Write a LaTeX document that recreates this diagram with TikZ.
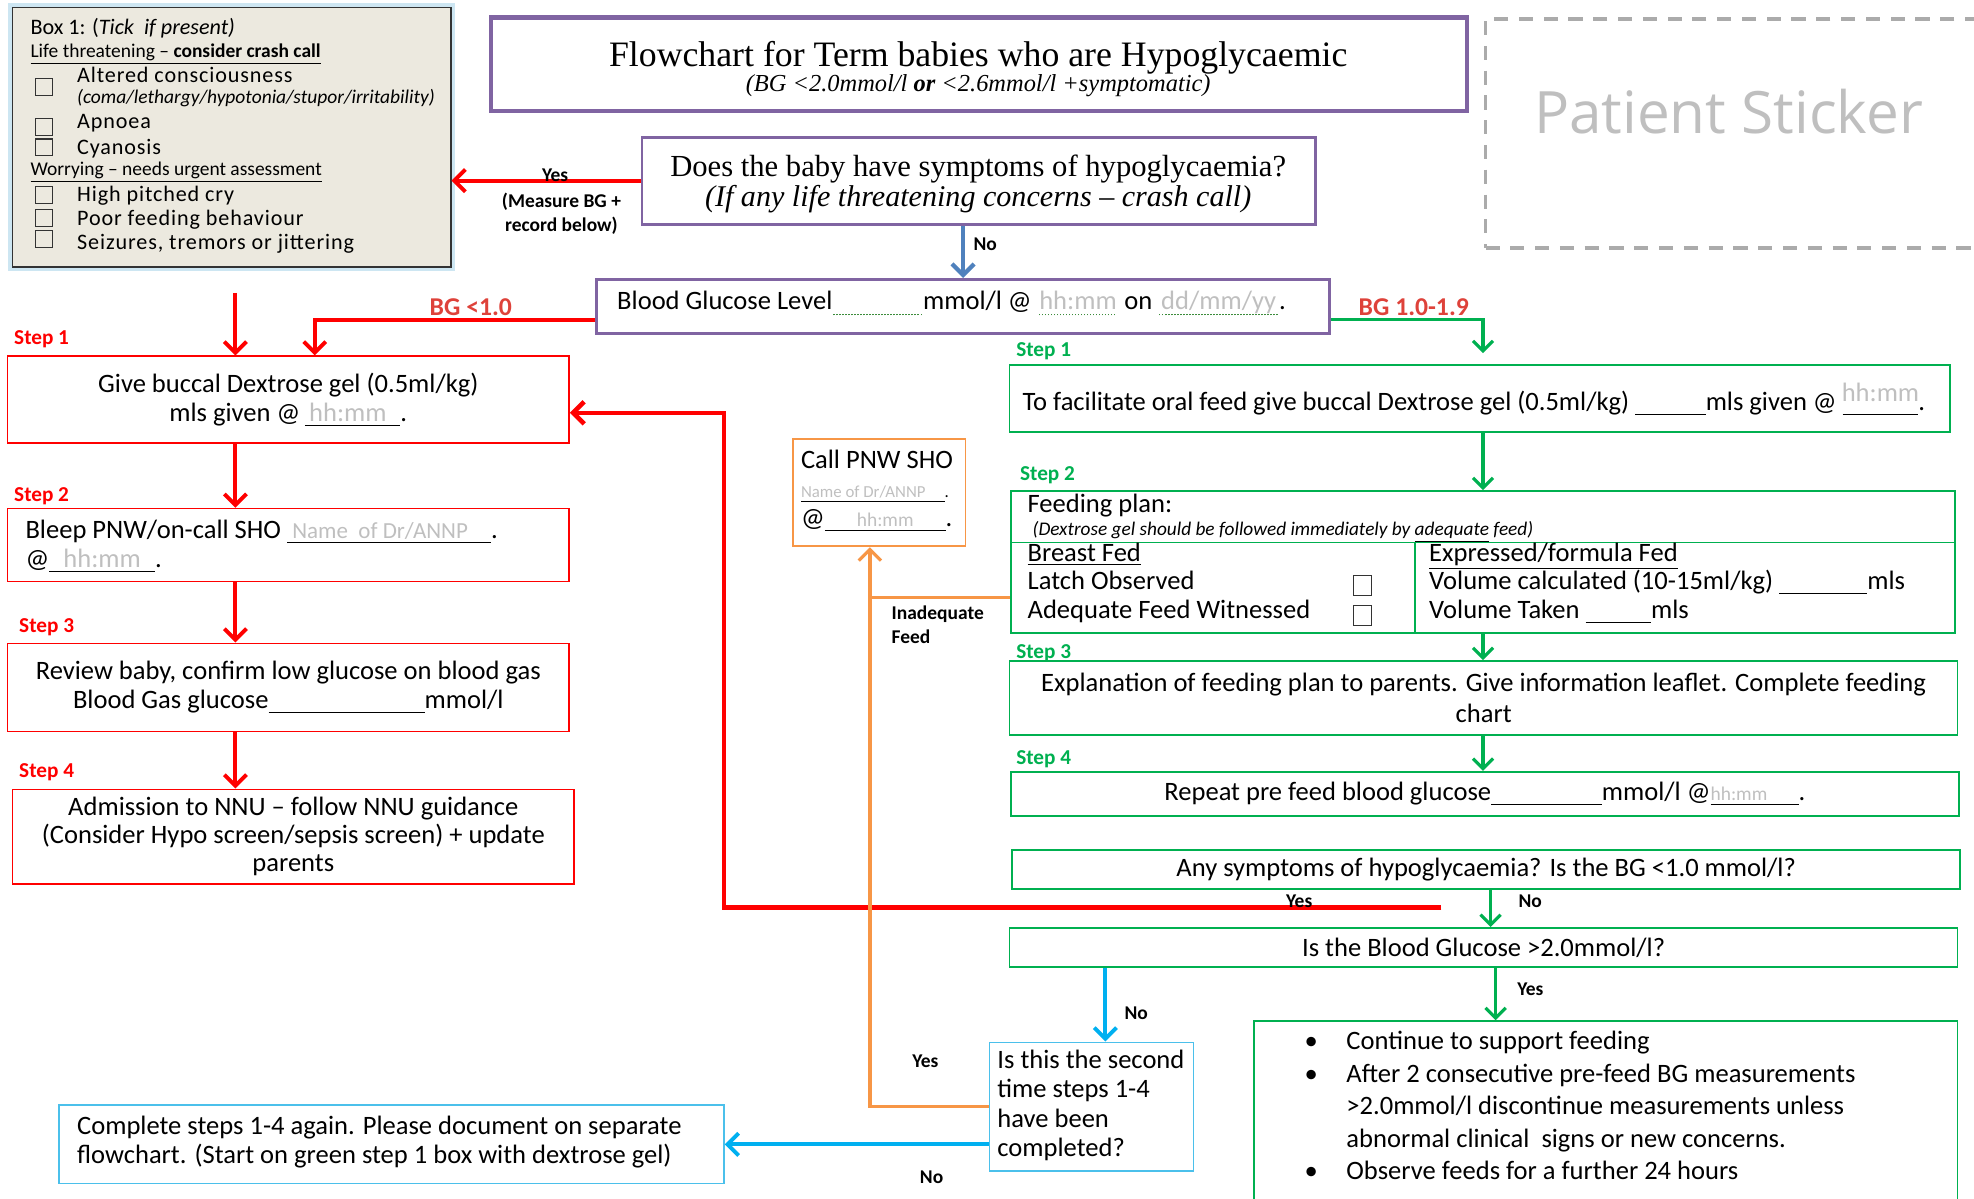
\documentclass[tikz,border=0pt]{standalone}
\usepackage{fontspec}
\setmainfont{Carlito}
\newfontfamily\titlefont{Liberation Serif}
\newfontfamily\stickerfont{Open Sans}
\usetikzlibrary{positioning, fit, arrows.meta}

\definecolor{hred}{RGB}{255,0,0}
\definecolor{hlabel}{RGB}{222,66,58}
\definecolor{hgreen}{RGB}{0,176,80}
\definecolor{hpurple}{RGB}{128,100,162}
\definecolor{horange}{RGB}{247,150,70}
\definecolor{hcyan}{RGB}{0,176,240}
\definecolor{hboxcyan}{RGB}{75,192,235}
\definecolor{hsteel}{RGB}{79,129,189}
\definecolor{hbeige}{RGB}{236,233,223}
\definecolor{hglow}{RGB}{205,230,242}
\definecolor{phgrey}{RGB}{191,191,191}
\definecolor{squig}{RGB}{60,140,60}

\newcommand\fmain{\fontsize{15}{16.3}\selectfont}
\newcommand\fboxone{\fontsize{12.5}{14}\selectfont\addfontfeature{LetterSpace=4}}
\newcommand\fsmall{\fontsize{11}{12.5}\selectfont}
\newcommand\flabel{\fontsize{11}{13.5}\selectfont}
\newcommand\fstep{\fontsize{12}{13.5}\selectfont}
% blanks to fill in
\newcommand\blank[3][c]{\rlap{\rule[-2.5pt]{#2}{0.6pt}}\makebox[#2][#1]{\textcolor{phgrey}{#3}}}
\newcommand\dotrule[1]{\hbox to #1{\leaders\hbox to 1.7pt{\hss\rule{0.8pt}{0.8pt}\hss}\hfill}}
\newcommand\dotblank[2]{\rlap{\raisebox{-3pt}{\textcolor{squig}{\dotrule{#1}}}}\makebox[#1][c]{\textcolor{phgrey}{#2}}}

\tikzset{
  box1style/.style={draw=black!80, fill=hbeige, line width=1pt, inner sep=0pt,
    preaction={draw=hglow, line width=5pt}},
  titlebox/.style={draw=hpurple, line width=2.4pt, inner sep=0pt},
  purplebox/.style={draw=hpurple, line width=1.6pt, inner sep=0pt},
  redbox/.style={draw=hred, line width=0.9pt, inner sep=0pt},
  greenbox/.style={draw=hgreen, line width=0.9pt, inner sep=0pt},
  cyanbox/.style={draw=hboxcyan, line width=1pt, inner sep=0pt},
  orangebox/.style={draw=horange, line width=1pt, inner sep=0pt},
  stickerbox/.style={draw=black!33, line width=2pt, dash pattern=on 8pt off 6pt, inner sep=0pt},
  tickbox/.style={draw=black!80, line width=0.6pt, minimum width=0.33cm, minimum height=0.33cm, inner sep=0pt},
  boxtext/.style={inner sep=0pt, font=\fmain, align=center},
  txt/.style={anchor=west, inner sep=0pt, font=\fmain, align=left},
  b1txt/.style={anchor=mid west, inner sep=0pt, font=\fboxone},
  steplabel/.style={anchor=mid west, inner sep=0pt, font=\fstep\bfseries},
  yesno/.style={inner sep=0pt, font=\flabel\bfseries},
  bglabel/.style={inner sep=0pt, text=hlabel, font=\fontsize{14.5}{16}\selectfont\bfseries},
  redarrow/.style={draw=hred, line width=2.2pt, -{Straight Barb[length=2.2mm,width=4.4mm]}},
  greenarrow/.style={draw=hgreen, line width=1.8pt, -{Straight Barb[length=2mm,width=4mm]}},
  bluearrow/.style={draw=hsteel, line width=2.4pt, -{Straight Barb[length=2.2mm,width=4.4mm]}},
  cyanarrow/.style={draw=hcyan, line width=2.2pt, -{Straight Barb[length=2.2mm,width=4.4mm]}},
  orangeline/.style={draw=horange, line width=1.8pt},
  orangearrow/.style={orangeline, -{Straight Barb[length=2.2mm,width=4.4mm]}},
}

\begin{document}
\begin{tikzpicture}[x=0.025cm, y=-0.025cm]
  \useasboundingbox (0,0) rectangle (1568,952);
  \clip (0,0) rectangle (1568,952);

  % Columns used by the connectors
  \coordinate (lcol) at (187,0);
  \coordinate (ocol) at (691,0);
  \coordinate (bcol) at (878,0);
  \coordinate (gcol) at (1178,0);
  \coordinate (ncol) at (1184,0);
  \coordinate (ycol) at (1188,0);
  \coordinate (redcol) at (575,0);
  \coordinate (yesfrom) at (1145,721);

  % Box 1: checklist
  \node[box1style, fit={(10,6) (358,212)}] (box1) {};
  \node[b1txt, font=\fontsize{12.5}{14}\selectfont] (b1head) at (24,24) {Box 1: (\textit{Tick\ \ if present)}};
  \node[b1txt, font=\fsmall] (b1life) at (24,42) {\underline{Life threatening – \textbf{consider crash call}}};
  \node[b1txt] (b1alt) at (61,62) {Altered consciousness};
  \node[b1txt, font=\fsmall\itshape] (b1altsub) at (61,79) {(coma/lethargy/hypotonia/stupor/irritability)};
  \node[b1txt] (b1apn) at (61,99) {Apnoea};
  \node[b1txt] (b1cya) at (61,119) {Cyanosis};
  \node[b1txt, font=\fsmall] (b1worry) at (24,136) {\underline{Worrying – needs urgent assessment}};
  \node[b1txt] (b1cry) at (61,157) {High pitched cry};
  \node[b1txt] (b1poor) at (61,176) {Poor feeding behaviour};
  \node[b1txt] (b1seiz) at (61,195) {Seizures, tremors or jittering};
  \foreach \y/\n in {69/a,101/b,117/c,155/d,173/e,190/f}
    \node[tickbox] (tick\n) at (35,\y) {};

  % Title
  \node[titlebox, fit={(390,14) (1165,88)}] (title) {};
  \node[inner sep=0pt, font=\titlefont\fontsize{20.2}{23}\selectfont] (titletext) at (777,46)
    {Flowchart for Term babies who are Hypoglycaemic};
  \node[inner sep=0pt, font=\titlefont\itshape\fontsize{13.8}{16}\selectfont] (subtitle) at (777,68)
    {(BG <2.0mmol/l \textbf{or} <2.6mmol/l +symptomatic)};

  % Patient sticker
  \node[stickerbox, fit={(1180,15) (1600,197)}] (sticker) {};
  \node[inner sep=0pt, text=phgrey, font=\stickerfont\fontsize{33}{38}\selectfont] (stickertext) at (1373,89) {Patient Sticker};

  % First question
  \node[purplebox, fit={(510,109) (1045,178)}] (symq) {};
  \node[inner sep=0pt, font=\titlefont\fontsize{17.3}{20}\selectfont] (symqa) at (777,134)
    {Does the baby have symptoms of hypoglycaemia?};
  \node[inner sep=0pt, font=\titlefont\itshape\fontsize{17}{20}\selectfont] (symqb) at (777,158)
    {(If any life threatening concerns – crash call)};

  % Blood glucose level
  \node[purplebox, fit={(474,222) (1056,265)}] (bglevel) {};
  \node[txt] (bgtext) at (490,241) {Blood Glucose Level\dotblank{1.8cm}{}mmol/l @ \dotblank{1.6cm}{hh:mm} on \dotblank{2.4cm}{dd/mm/yy}.};

  % Red pathway (BG <1.0)
  \foreach \y/\n/\x in {270/1/11, 395/2/11, 499/3/15, 614/4/15}
    \node[steplabel, text=hred] (rstep\n) at (\x,\y) {Step \n};
  \node[redbox, fit={(6,283) (452,352)}] (rs1) {};
  \node[boxtext] (rs1text) at (rs1) {Give buccal Dextrose gel (0.5ml/kg)\\mls given @\,\blank[l]{1.9cm}{\,hh:mm}.};
  \node[redbox, fit={(6,404) (452,462)}] (rs2) {};
  \node[txt] (rs2text) at (20,433.5)
    {Bleep PNW/on-call SHO \blank[l]{4.05cm}{\fontsize{13}{15}\selectfont\ Name\ \ of Dr/ANNP}.\\@\blank{2.1cm}{hh:mm}.};
  \node[redbox, fit={(6,511) (452,581)}] (rs3) {};
  \node[boxtext] (rs3text) at (rs3) {Review baby, confirm low glucose on blood gas\\Blood Gas glucose\blank{3.1cm}{}mmol/l};
  \node[redbox, fit={(10,627) (456,702)}] (rs4) {};
  \node[boxtext, font=\fontsize{15}{15.7}\selectfont] (rs4text) at (rs4)
    {Admission to NNU – follow NNU guidance\\(Consider Hypo screen/sepsis screen) + update\\parents};

  % Call PNW SHO
  \node[orangebox, fit={(630,349) (767,434)}] (callsho) {};
  \node[txt] (calltext) at (636,389.5)
    {Call PNW SHO\\{\fontsize{9.5}{11}\selectfont\blank[l]{2.85cm}{Name of Dr/ANNP}.}\\@\blank{2.4cm}{\fsmall hh:mm}.};

  % Green pathway (BG 1.0-1.9)
  \foreach \y/\n/\x in {280/1/807, 378/2/810, 520/3/807, 604/4/807}
    \node[steplabel, text=hgreen] (gstep\n) at (\x,\y) {Step \n};
  \node[greenbox, fit={(802,290) (1549,343)}] (gs1) {};
  \node[txt] (gs1text) at (812,317)
    {To facilitate oral feed give buccal Dextrose gel (0.5ml/kg) \blank{1.4cm}{}mls given @ \blank{1.5cm}{\raisebox{5pt}{hh:mm}}.};

  \node[greenbox, fit={(803,390) (1553,503)}] (fplan) {};
  \draw[hgreen, line width=0.9pt] (803,431) -- (1553,431);
  \draw[hgreen, line width=0.9pt] (1124,431) -- (1124,503);
  \node[txt, anchor=mid west] (fptitle) at (816,404) {Feeding plan:};
  \node[txt, anchor=mid west, font=\fontsize{10.9}{12}\selectfont\itshape] (fpnote) at (820,422)
    {(Dextrose gel should be followed immediately by \underline{adequate} feed)};
  \node[txt, anchor=mid west] (fpbreast) at (816,443) {\underline{Breast Fed}};
  \node[txt, anchor=mid west] (fplatch) at (816,465) {Latch Observed};
  \node[txt, anchor=mid west] (fpwitness) at (816,488) {Adequate Feed Witnessed};
  \node[tickbox, minimum width=0.36cm, minimum height=0.4cm] (tickg) at (1082,465) {};
  \node[tickbox, minimum width=0.36cm, minimum height=0.4cm] (tickh) at (1082,489) {};
  \node[txt, anchor=mid west] (fpformula) at (1135,443) {\underline{Expressed/formula Fed}};
  \node[txt, anchor=mid west] (fpcalc) at (1135,465) {Volume calculated (10-15ml/kg) \blank{1.75cm}{}mls};
  \node[txt, anchor=mid west] (fptaken) at (1135,488) {Volume Taken \blank{1.3cm}{}mls};

  \node[greenbox, fit={(802,525) (1555,584)}] (gs3) {};
  \node[boxtext, font=\fontsize{15}{17.7}\selectfont] (gs3text) at (gs3)
    {Explanation of feeding plan to parents. Give information leaflet. Complete feeding\\chart};
  \node[greenbox, fit={(803,613) (1556,648)}] (gs4) {};
  \node[boxtext] (gs4text) at (gs4)
    {Repeat pre feed blood glucose\blank{2.2cm}{}mmol/l @\blank[l]{1.75cm}{\fsmall hh:mm}.};
  \node[greenbox, fit={(804,675) (1557,706)}] (q1) {};
  \node[boxtext] (q1text) at (q1) {Any symptoms of hypoglycaemia? Is the BG <1.0 mmol/l?};
  \node[greenbox, fit={(802,737) (1555,768)}] (q2) {};
  \node[boxtext] (q2text) at (q2) {Is the Blood Glucose >2.0mmol/l?};

  % Outcomes
  \node[greenbox, fit={(996,811) (1555,1000)}] (final) {};
  \node[txt, anchor=north west, font=\fontsize{15}{18.3}\selectfont] (bullets) at (1036,819)
    {\makebox[0.83cm][l]{\textbullet}Continue to support feeding\\
     \makebox[0.83cm][l]{\textbullet}After 2 consecutive pre-feed BG measurements\\
     \hspace*{0.83cm}>2.0mmol/l discontinue measurements unless\\
     \hspace*{0.83cm}abnormal clinical\ \ signs or new concerns.\\
     \makebox[0.83cm][l]{\textbullet}Observe feeds for a further 24 hours};
  \node[cyanbox, fit={(786,828) (948,930)}] (second) {};
  \node[txt, font=\fontsize{15}{16.5}\selectfont] (secondtext) at (792,878)
    {Is this the second\\time steps 1-4\\have been\\completed?};
  \node[cyanbox, fit={(47,878) (575,940)}] (again) {};
  \node[txt] (againtext) at (61,907)
    {Complete steps 1-4 again. Please document on separate\\flowchart. (Start on green step 1 box with dextrose gel)};

  % Connectors
  \draw[redarrow] (symq.west) -- (symq.west -| box1.east);
  \node[yesno] (lyes1) at (441,139) {Yes};
  \node[yesno, align=center] (lmeasure) at (446,170) {(Measure BG +\\record below)};

  \draw[bluearrow] (bglevel.north |- symq.south) -- (bglevel.north);
  \node[yesno, anchor=west] (lno1) at (773,194) {No};

  \coordinate (bgleft) at ([yshift=-0.26cm]bglevel.west);
  \coordinate (bgright) at ([yshift=-0.26cm]bglevel.east);
  \draw[redarrow] (bgleft) -| ([xshift=0.525cm]rs1.north);
  \node[bglabel] (lbglow) at (374,244) {BG <1.0};
  \draw[greenarrow, shorten >=0.22cm] (bgright) -| (gs1.north -| gcol);
  \node[bglabel] (lbgmid) at (1123,244) {BG 1.0-1.9};

  \draw[redarrow, shorten <=0.5cm] (box1.south -| lcol) -- (rs1.north -| lcol);
  \foreach \a/\b in {rs1/rs2, rs2/rs3, rs3/rs4}
    \draw[redarrow] (\a.south -| lcol) -- (\b.north -| lcol);

  \foreach \a/\b in {gs1/fplan, fplan/gs3, gs3/gs4}
    \draw[greenarrow] (\a.south -| gcol) -- (\b.north -| gcol);
  \draw[greenarrow] (q1.south -| ncol) -- (q2.north -| ncol);
  \node[yesno, anchor=west] (lno2) at (1206,716) {No};

  \coordinate (rs1in) at ([yshift=-0.26cm]rs1.east);
  \draw[redarrow, line width=2.6pt] (yesfrom) -| (redcol |- rs1in) -- (rs1in);
  \node[yesno] (lyes2) at (1032,716) {Yes};

  \draw[greenarrow] (q2.south -| ycol) -- (final.north -| ycol);
  \node[yesno, anchor=west] (lyes3) at (1205,786) {Yes};
  \draw[cyanarrow] (q2.south -| bcol) -- (second.north -| bcol);
  \node[yesno, anchor=west] (lno3) at (893,805) {No};
  \draw[cyanarrow] (second.west |- again.east) -- (again.east);
  \node[yesno] (lno4) at (740,935) {No};

  \draw[orangearrow] (second.west) -| (ocol |- callsho.south);
  \coordinate (fpleft) at ([yshift=-0.71cm]fplan.west);
  \draw[orangeline] (fpleft) -- (fpleft -| ocol);
  \node[yesno, anchor=north west, align=left] (linadeq) at (708,481) {Inadequate\\Feed};
  \node[yesno] (lyes4) at (735,843) {Yes};
\end{tikzpicture}
\end{document}
